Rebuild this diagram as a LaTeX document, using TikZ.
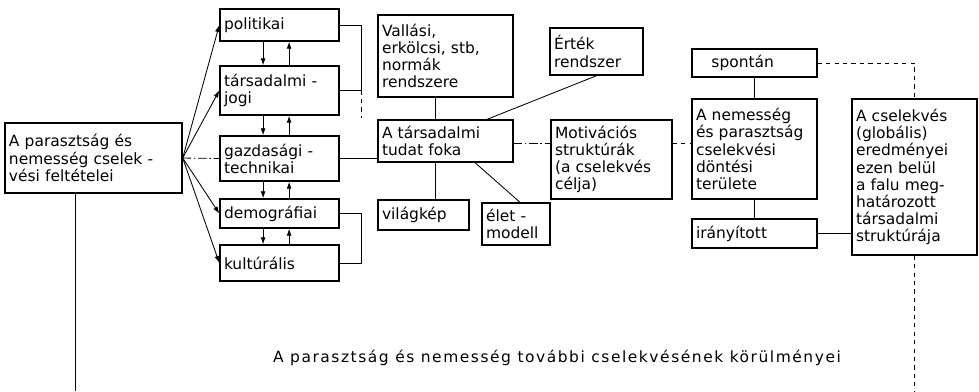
\documentclass[tikz,border=0pt]{standalone}
\usepackage{fontspec}
\setmainfont{DejaVu Sans}
\usetikzlibrary{arrows.meta,calc}

\begin{document}
\begin{tikzpicture}[x=0.025cm, y=-0.025cm,
  every node/.style={font=\fontsize{11}{12.2}\selectfont},
  blk/.style 2 args={draw, line width=1pt, align=left, inner xsep=4*0.025cm, inner ysep=1pt,
    text width=#1*0.025cm, minimum height=#2*0.025cm},
  tip/.style={line width=0.6pt, -{Latex[length=5pt,width=3.5pt]}},
  dd/.style={line width=0.6pt, dash pattern=on 6pt off 2pt on 1pt off 2pt},
  every path/.style={line width=0.6pt}]
  \useasboundingbox (0,0) rectangle (979,391);

  % Conditions (left)
  \node[blk={169}{70}] (cond) at (93.5,158) {A parasztság és\\nemesség cselek -\\vési feltételei};

  % Categories
  \node[blk={111}{32}] (pol) at (279.5,25) {politikai};
  \node[blk={111}{49}] (tars) at (279.5,90.5) {társadalmi -\\jogi};
  \node[blk={111}{45}] (gazd) at (279.5,158.5) {gazdasági -\\technikai};
  \node[blk={111}{29}] (demo) at (279.5,213.5) {demográfiai};
  \node[blk={111}{36}] (kult) at (279.5,263) {kultúrális};
  \draw[tip] (cond.east) -- (pol.west);
  \draw[tip] (cond.east) -- (tars.west);
  \draw[dd] (cond.east) -- (gazd.west);
  \draw[tip] (cond.east) -- (demo.west);
  \draw[tip] (cond.east) -- (kult.west);
  \draw[tip] ([xshift=-0.41cm]pol.south) -- ([xshift=-0.41cm]tars.north);
  \draw[tip] ([xshift=0.24cm]tars.north) -- ([xshift=0.24cm]pol.south);
  \draw[tip] ([xshift=-0.41cm]tars.south) -- ([xshift=-0.41cm]gazd.north);
  \draw[tip] ([xshift=0.24cm]gazd.north) -- ([xshift=0.24cm]tars.south);
  \draw[tip] ([xshift=-0.41cm]gazd.south) -- ([xshift=-0.41cm]demo.north);
  \draw[tip] ([xshift=0.24cm]demo.north) -- ([xshift=0.24cm]gazd.south);
  \draw[tip] ([xshift=-0.41cm]demo.south) -- ([xshift=-0.41cm]kult.north);
  \draw[tip] ([xshift=0.24cm]kult.north) -- ([xshift=0.24cm]demo.south);

  % Bracket on the right of the categories
  \coordinate (br) at (361,118);
  \draw (pol.east) -- (pol.east -| br) -- (tars.east -| br) -- (tars.east);
  \draw[dashed] (tars.east -| br) -- (br);
  \draw (demo.east) -- (demo.east -| br) -- (kult.east -| br) -- (kult.east);

  % Social consciousness
  \node[blk={127}{82}] (vall) at (445.5,56) {Vallási,\\erkölcsi, stb,\\normák\\rendszere};
  \node[blk={85}{47}] (ertek) at (596.5,51.5) {Érték\\rendszer};
  \node[blk={127}{42}] (tudat) at (445.5,141) {A társadalmi\\tudat foka};
  \node[blk={83}{30}] (vilag) at (423.5,215) {világkép};
  \node[blk={60}{42}] (elet) at (516,224) {élet -\\modell};
  \draw (gazd.east) -- (gazd.east -| tudat.west);
  \draw ([xshift=-0.24cm]vall.south) -- ([xshift=-0.24cm]tudat.north);
  \draw (ertek.south) -- ([xshift=1.04cm]tudat.north);
  \draw ([xshift=-0.24cm]tudat.south) -- ([xshift=-0.24cm]tudat.south |- vilag.north);
  \draw ([xshift=0.74cm]tudat.south) -- ([xshift=0.1cm]elet.north);

  % Motivation and decision
  \node[blk={113}{79}] (motiv) at (611.5,159.5) {Motivációs\\struktúrák\\(a cselekvés\\célja)};
  \node[blk={117}{28}] (spont) at (754.5,63) {\hspace{1em}spontán};
  \node[blk={117}{100}] (dont) at (754.5,149) {A nemesség\\és parasztság\\cselekvési\\döntési\\területe};
  \node[blk={117}{29}] (irany) at (754.5,233.5) {irányított};
  \draw[dd] ([yshift=-0.07cm]tudat.east) -- ([yshift=-0.07cm]tudat.east -| motiv.west);
  \draw[dashed] ([yshift=-0.07cm]motiv.east |- tudat.east) -- ([yshift=-0.07cm]tudat.east -| dont.west);
  \draw (spont.south) -- (dont.north);
  \draw (dont.south) -- (irany.north);

  % Results (right)
  \node[blk={117}{156}] (eredm) at (914.5,177) {A cselekvés\\(globális)\\eredményei\\ezen belül\\a falu meg-\\határozott\\társadalmi\\struktúrája};
  \draw[dashed] (spont.east) -| (eredm.north);
  \draw (irany.east) -- (irany.east -| eredm.west);

  % Further circumstances (bottom)
  \node[font=\fontsize{11}{12}\selectfont\addfontfeatures{LetterSpace=10}] (kor) at (557,358)
    {A parasztság és nemesség további cselekvésének körülményei};
  \coordinate (lb) at (75,391);
  \coordinate (rb) at (917,391);
  \draw (lb |- cond.south) -- (lb);
  \draw[dashed] (eredm.south) -- (eredm.south |- rb);
\end{tikzpicture}
\end{document}
